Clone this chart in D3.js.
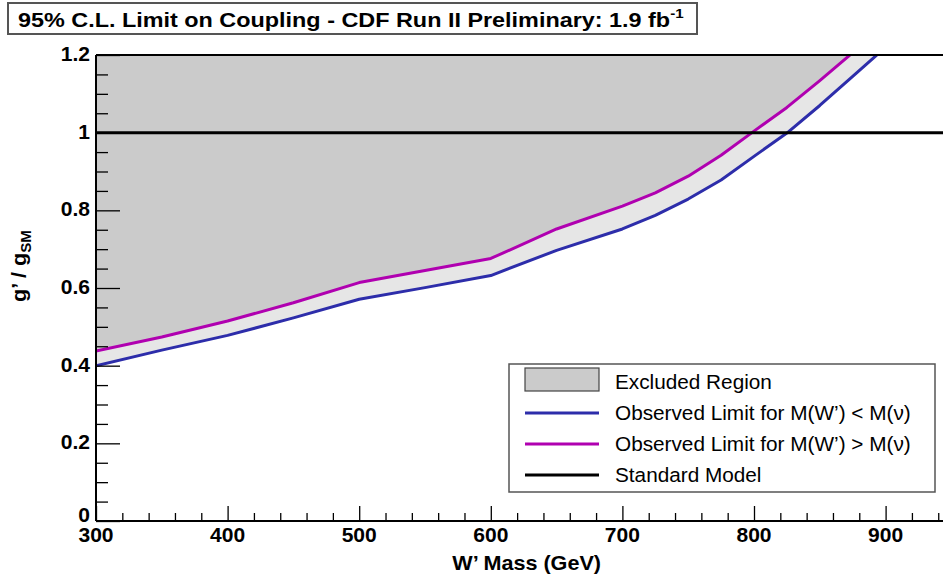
<!DOCTYPE html>
<html>
<head>
<meta charset="utf-8">
<script src="https://cdn.jsdelivr.net/npm/d3@7"></script>
<style>
  html, body { margin: 0; padding: 0; background: #fff; }
  svg { display: block; font-family: "Liberation Sans", Arial, Helvetica, sans-serif; }
</style>
</head>
<body>
<svg id="chart" width="943" height="577"></svg>
<script>
// W' mass points (GeV) and 95% C.L. upper limits on g'/g_SM
const masses =         [300,   350,   400,   450,   500,   550,   600,   650,   700,   725,   750,   775,   800,   825,   850,   875,   900];
const limitLighterNu = [0.400, 0.440, 0.478, 0.523, 0.571, 0.601, 0.632, 0.697, 0.752, 0.787, 0.829, 0.878, 0.939, 0.999, 1.070, 1.145, 1.220];
const limitHeavierNu = [0.438, 0.474, 0.515, 0.562, 0.614, 0.645, 0.676, 0.752, 0.811, 0.845, 0.888, 0.942, 1.004, 1.065, 1.134, 1.206, 1.280];
const standardModel = 1.0;

const xMajorTicks = [300, 400, 500, 600, 700, 800, 900];
const yMajorTicks = [0, 0.2, 0.4, 0.6, 0.8, 1, 1.2];
const yTickLabels = ["0", "0.2", "0.4", "0.6", "0.8", "1", "1.2"];

const legendLabels = [
  "Excluded Region",
  "Observed Limit for M(W\u2019) < M(\u03BD)",
  "Observed Limit for M(W\u2019) > M(\u03BD)",
  "Standard Model"
];

const colors = {
  excluded: "#cbcbcb",
  band: "#e6e6e6",
  blue: "#2d2daa",
  magenta: "#b000b0",
  sm: "#000000"
};

const svg = d3.select("#chart");
const W = 943, H = 577;
const plotLeft = 96, plotTop = 55, plotBottom = 521;
const pxPer100 = 131.6;
const stretch = 1.08; // horizontal glyph stretch of the axis and legend text

const x = d3.scaleLinear().domain([300, 1000]).range([plotLeft, plotLeft + 7 * pxPer100]);
const y = d3.scaleLinear().domain([0, 1.2]).range([plotBottom, plotTop]);

svg.append("defs").append("clipPath").attr("id", "plotClip")
  .append("rect").attr("x", plotLeft).attr("y", plotTop)
  .attr("width", W - plotLeft).attr("height", plotBottom - plotTop);

const plot = svg.append("g").attr("clip-path", "url(#plotClip)");
const rows = masses.map((m, i) => ({ m, lo: limitLighterNu[i], hi: limitHeavierNu[i] }));
const curve = d3.curveLinear;

// excluded region: everything above the upper observed limit
plot.append("path")
  .datum(rows)
  .attr("fill", colors.excluded)
  .attr("d", d3.area().curve(curve).x(d => x(d.m)).y0(y(1.2)).y1(d => y(d.hi)));

// band between the two observed limits
plot.append("path")
  .datum(rows)
  .attr("fill", colors.band)
  .attr("d", d3.area().curve(curve).x(d => x(d.m)).y0(d => y(d.lo)).y1(d => y(d.hi)));

plot.append("path")
  .datum(rows)
  .attr("fill", "none").attr("stroke", colors.blue).attr("stroke-width", 3)
  .attr("stroke-linejoin", "round")
  .attr("d", d3.line().curve(curve).x(d => x(d.m)).y(d => y(d.lo)));

plot.append("path")
  .datum(rows)
  .attr("fill", "none").attr("stroke", colors.magenta).attr("stroke-width", 3)
  .attr("stroke-linejoin", "round")
  .attr("d", d3.line().curve(curve).x(d => x(d.m)).y(d => y(d.hi)));

// Standard Model coupling
svg.append("line")
  .attr("x1", plotLeft).attr("x2", W)
  .attr("y1", y(standardModel)).attr("y2", y(standardModel))
  .attr("stroke", colors.sm).attr("stroke-width", 3);

// frame top edge
svg.append("line")
  .attr("x1", plotLeft).attr("x2", W).attr("y1", plotTop).attr("y2", plotTop)
  .attr("stroke", "#000").attr("stroke-width", 2);

// x axis with minor ticks every 20 GeV
const xMinor = d3.range(300, 960, 20).filter(v => !xMajorTicks.includes(v));
const xAxisMajor = d3.axisBottom(x).tickValues(xMajorTicks).tickSize(-15).tickFormat("");
const xAxisMinor = d3.axisBottom(x).tickValues(xMinor).tickSize(-8).tickFormat("");
const gxMinor = svg.append("g").attr("transform", `translate(0,${plotBottom})`).call(xAxisMinor);
const gx = svg.append("g").attr("transform", `translate(0,${plotBottom})`).call(xAxisMajor);
[gx, gxMinor].forEach(g => {
  g.select(".domain").remove();
  g.selectAll(".tick line").attr("stroke", "#000").attr("stroke-width", 1.3);
});
svg.append("line").attr("x1", plotLeft).attr("x2", W).attr("y1", plotBottom).attr("y2", plotBottom)
  .attr("stroke", "#000").attr("stroke-width", 2);

svg.append("g").selectAll("text").data(xMajorTicks).join("text")
  .attr("transform", d => `translate(${x(d)},542) scale(${stretch},1)`)
  .attr("text-anchor", "middle")
  .attr("font-size", 19.5).attr("font-weight", "bold")
  .text(d => d);

// y axis with minor ticks every 0.05
const yMinor = d3.range(0, 1.2001, 0.05).map(v => +v.toFixed(2)).filter(v => !yMajorTicks.includes(v));
const yAxisMajor = d3.axisLeft(y).tickValues(yMajorTicks).tickSize(-24).tickFormat("");
const yAxisMinor = d3.axisLeft(y).tickValues(yMinor).tickSize(-12).tickFormat("");
const gyMinor = svg.append("g").attr("transform", `translate(${plotLeft},0)`).call(yAxisMinor);
const gy = svg.append("g").attr("transform", `translate(${plotLeft},0)`).call(yAxisMajor);
[gy, gyMinor].forEach(g => {
  g.select(".domain").remove();
  g.selectAll(".tick line").attr("stroke", "#000").attr("stroke-width", 1.3);
});
svg.append("line").attr("x1", plotLeft).attr("x2", plotLeft).attr("y1", plotTop).attr("y2", plotBottom)
  .attr("stroke", "#000").attr("stroke-width", 2);

svg.append("g").selectAll("text").data(yMajorTicks).join("text")
  .attr("transform", d => `translate(90,${Math.min(y(d) + 6, 522)}) scale(${stretch},1)`)
  .attr("text-anchor", "end")
  .attr("font-size", 19.5).attr("font-weight", "bold")
  .text((d, i) => yTickLabels[i]);

// axis titles
svg.append("text")
  .attr("transform", `translate(601,570) scale(${stretch},1)`)
  .attr("text-anchor", "end")
  .attr("font-size", 20).attr("font-weight", "bold")
  .text("W\u2019 Mass (GeV)");

const yt = svg.append("text")
  .attr("transform", `translate(26,266) rotate(-90) scale(${stretch},1)`)
  .attr("text-anchor", "middle")
  .attr("font-size", 20).attr("font-weight", "bold");
yt.append("tspan").text("g\u2019 / g");
yt.append("tspan").attr("font-size", 14).attr("dy", 5).text("SM");

// title box
svg.append("rect")
  .attr("x", 8).attr("y", 3).attr("width", 689).attr("height", 31)
  .attr("fill", "#fff").attr("stroke", "#555").attr("stroke-width", 2);
const title = svg.append("text")
  .attr("transform", "translate(18,27) scale(1.17,1)")
  .attr("font-size", 20).attr("font-weight", "bold");
title.append("tspan").text("95% C.L. Limit on Coupling - CDF Run II Preliminary: 1.9 fb");
title.append("tspan").attr("font-size", 13).attr("dy", -9).text("-1");

// legend
const lg = svg.append("g");
lg.append("rect")
  .attr("x", 509).attr("y", 364).attr("width", 426).attr("height", 128)
  .attr("fill", "#fff").attr("stroke", "#555").attr("stroke-width", 1.5);
const rowY = [382, 413, 444, 475];
lg.append("rect")
  .attr("x", 525).attr("y", 368).attr("width", 74).attr("height", 23)
  .attr("fill", colors.excluded).attr("stroke", "#444").attr("stroke-width", 1.2);
[colors.blue, colors.magenta, colors.sm].forEach((c, i) => {
  lg.append("line")
    .attr("x1", 525).attr("x2", 599)
    .attr("y1", rowY[i + 1]).attr("y2", rowY[i + 1])
    .attr("stroke", c).attr("stroke-width", 3);
});
lg.selectAll("text.lab").data(legendLabels).join("text")
  .attr("class", "lab")
  .attr("transform", (d, i) => `translate(615,${rowY[i] + 7}) scale(1.065,1)`)
  .attr("font-size", 19.5)
  .text(d => d);
</script>
</body>
</html>
